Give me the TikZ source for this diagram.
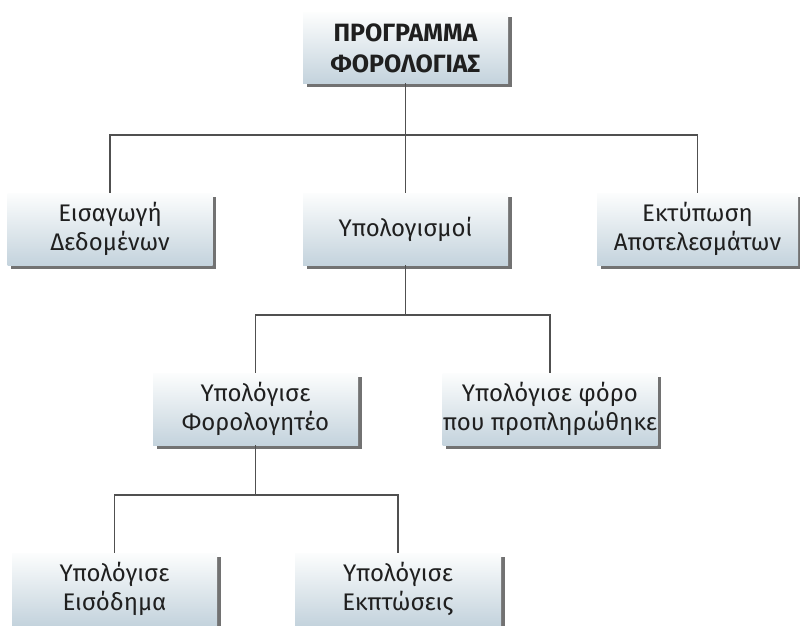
\documentclass[tikz,border=0pt]{standalone}
\usepackage{fontspec}
\setmainfont{Fira Sans}
\usetikzlibrary{shadows}
\definecolor{boxtop}{RGB}{252,253,253}
\definecolor{boxbot}{RGB}{196,211,221}
\definecolor{linec}{RGB}{80,80,80}
\tikzset{
  box/.style={rectangle, minimum width=205pt, minimum height=72pt, inner sep=0pt,
    top color=boxtop, bottom color=boxbot, align=center,
    font=\fontsize{24}{29}\selectfont, text=black!88,
    drop shadow={shadow xshift=3.5pt, shadow yshift=-4pt, fill=black!65, opacity=0.85}},
  conn/.style={draw=linec, line width=1.8pt}
}
\begin{document}
\begin{tikzpicture}[x=1pt,y=-1pt]
\clip (0,0) rectangle (800,626);
\useasboundingbox (0,0) rectangle (800,626);
\node[box, minimum height=70pt, font=\bfseries\fontsize{25}{31}\selectfont] (top) at (405.5,48) {ΠΡΟΓΡΑΜΜΑ\\ΦΟΡΟΛΟΓΙΑΣ};
\node[box] (e1) at (110,229) {Εισαγωγή\\Δεδομένων};
\node[box] (e2) at (405.5,229) {Υπολογισμοί};
\node[box, minimum width=201pt] (e3) at (697.5,229) {Εκτύπωση\\Αποτελεσμάτων};
\node[box] (c1) at (255.5,409) {Υπολόγισε\\Φορολογητέο};
\node[box, minimum width=215pt] (c2) at (550,409) {Υπολόγισε φόρο\\που προπληρώθηκε};
\node[box] (d1) at (114.5,589) {Υπολόγισε\\Εισόδημα};
\node[box, minimum width=206pt] (d2) at (398,589) {Υπολόγισε\\Εκπτώσεις};
\draw[conn] (top.south) -- (top.south |- 0,135) -| (e1.north);
\draw[conn] (top.south |- 0,135) -- (e2.north);
\draw[conn] (top.south |- 0,135) -| (e3.north);
\draw[conn] (e2.south) -- (e2.south |- 0,315) -| (c1.north);
\draw[conn] (e2.south |- 0,315) -| (c2.north);
\draw[conn] (c1.south) -- (c1.south |- 0,495) -| (d1.north);
\draw[conn] (c1.south |- 0,495) -| (d2.north);
\end{tikzpicture}
\end{document}
